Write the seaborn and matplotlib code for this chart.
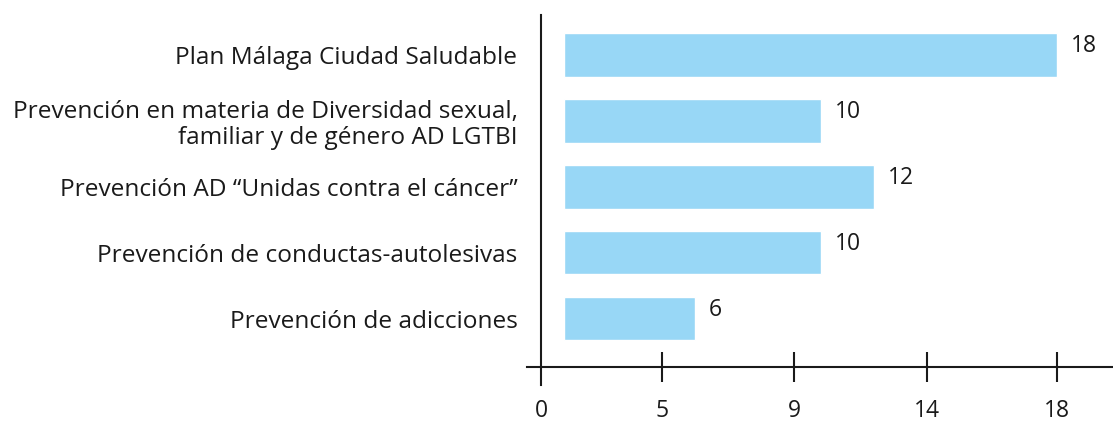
import matplotlib
matplotlib.use('Agg')

import matplotlib.pyplot as plt
import matplotlib.transforms as mtransforms
import seaborn as sns
import numpy as np
import pandas as pd

# ------------------------------------------------------------
# Datos
# ------------------------------------------------------------
categorias = [
    "Plan Málaga Ciudad Saludable",
    "Prevención en materia de Diversidad sexual,\nfamiliar y de género AD LGTBI",
    "Prevención AD “Unidas contra el cáncer”",
    "Prevención de conductas-autolesivas",
    "Prevención de adicciones",
]
valores = [18, 10, 12, 10, 6]
ticks_x = [0, 5, 9, 14, 18]

# posiciones (en px) de cada marca del eje: el eje original no es lineal
pos_ticks = np.array([0, 98, 230, 363, 493], dtype=float)
vals_ticks = np.array(ticks_x, dtype=float)
pend_izq = (pos_ticks[1] - pos_ticks[0]) / (vals_ticks[1] - vals_ticks[0])
pend_der = (pos_ticks[-1] - pos_ticks[-2]) / (vals_ticks[-1] - vals_ticks[-2])


def fwd(x):
    x = np.asarray(x, dtype=float)
    y = np.interp(x, vals_ticks, pos_ticks)
    y = np.where(x < vals_ticks[0], (x - vals_ticks[0]) * pend_izq + pos_ticks[0], y)
    y = np.where(x > vals_ticks[-1], (x - vals_ticks[-1]) * pend_der + pos_ticks[-1], y)
    return y


def inv(y):
    y = np.asarray(y, dtype=float)
    x = np.interp(y, pos_ticks, vals_ticks)
    x = np.where(y < pos_ticks[0], (y - pos_ticks[0]) / pend_izq + vals_ticks[0], x)
    x = np.where(y > pos_ticks[-1], (y - pos_ticks[-1]) / pend_der + vals_ticks[-1], x)
    return x


df = pd.DataFrame({"categoria": categorias, "valor": valores})

# ------------------------------------------------------------
# Estilo
# ------------------------------------------------------------
sns.set_style("white")
plt.rcParams['font.family'] = ['Open Sans', 'DejaVu Sans']
COLOR_BARRA = "#98D7F6"
COLOR_TEXTO = "#1a1a1a"
FS_CAT = 17.6   # etiquetas de categorías
FS_NUM = 16.5   # números

fig = plt.figure(figsize=(11.13, 4.23), dpi=100)
ax = fig.add_axes([527 / 1113, 38 / 423, 586 / 1113, 370 / 423])

sns.barplot(data=df, x="valor", y="categoria", orient="h", color=COLOR_BARRA,
            saturation=1, width=0.66, ax=ax)

ax.set_xscale('function', functions=(fwd, inv))
ax.set_xlim(inv(-37), inv(549))
ax.set_ylim(5.008, -0.607)

# etiquetas de valor al final de cada barra
for barra, v in zip(ax.patches, valores):
    ax.annotate(f"{v}", xy=(barra.get_width(), barra.get_y() + barra.get_height() / 2),
                xytext=(10, 6.5), textcoords='offset points', va='center', ha='left',
                fontsize=FS_NUM, color=COLOR_TEXTO)

# ejes cruzados
for lado in ['top', 'right']:
    ax.spines[lado].set_visible(False)
ax.spines['left'].set_position(('axes', 14 / 586))
ax.spines['bottom'].set_position(('axes', 18 / 370))
for lado in ['left', 'bottom']:
    ax.spines[lado].set_linewidth(1.5)
    ax.spines[lado].set_color(COLOR_TEXTO)

ax.set_xticks(ticks_x)
ax.set_xticklabels([str(t) for t in ticks_x])
ax.tick_params(axis='x', bottom=True, direction='inout', length=22, width=1.5,
               color=COLOR_TEXTO, labelsize=FS_NUM, labelcolor=COLOR_TEXTO, pad=12)
ax.tick_params(axis='y', left=False, length=0, labelsize=FS_CAT, labelcolor=COLOR_TEXTO, pad=17)
ax.set_xlabel("")
ax.set_ylabel("")

for lab in ax.get_yticklabels():
    lab.set_linespacing(1.1)

# la marca del 0 coincide con el eje vertical
ticks = ax.xaxis.get_major_ticks()
ticks[0].tick1line.set_visible(False)
ticks[0].label1.set_transform(ticks[0].label1.get_transform()
                              + mtransforms.ScaledTranslation(-23 / 100, 0, fig.dpi_scale_trans))

fig.savefig("out.png", dpi=100)
